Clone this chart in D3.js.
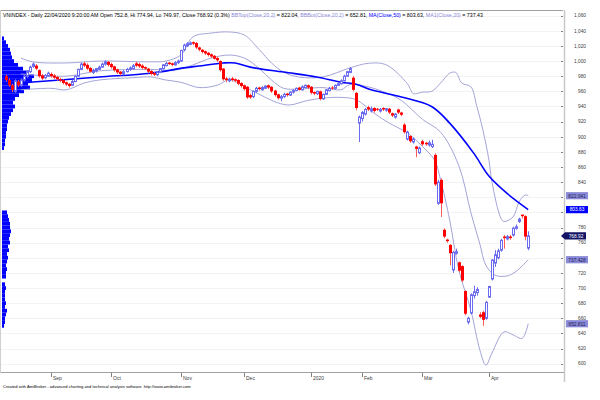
<!DOCTYPE html>
<html><head><meta charset="utf-8">
<script src="https://cdn.jsdelivr.net/npm/d3@7"></script>
<style>body{margin:0;background:#fff}svg{display:block}text{font-family:"Liberation Sans",Arial,sans-serif}</style>
</head><body><svg id="c" width="600" height="400"></svg>
<script>
// ---- data ----
const opens=[980,975,968,960,973,968,975,980,986,993,994,988,981,978,980,983,981,979,976,975,972,970,968,973,980,989,997,995,991,985,987,989,992,996,999,996,993,989,986,983,986,989,990,997,996,994,992,990,987,984,982,985,990,994,998,997,995,998,1000,1015,1020,1022,1025,1024,1018,1015,1013,1011,1009,1007,1004,1000,990,977,974,977,976,975,971,968,966,955,953,960,965,962,964,968,966,961,956,951,953,957,955,959,961,965,962,965,968,966,959,957,960,950,956,961,965,964,968,970,974,980,985,978,958,918,924,930,939,934,938,937,934,938,935,937,931,926,936,932,916,897,901,893,887,879,894,892,889,887,876,812,843,777,764,757,724,746,734,729,696,655,667,690,694,665,668,660,688,712,733,740,750,768,765,768,770,779,788,797,795,752.8];
const highs=[982,977,970,976,975,977,982,988,994,998,996,989,983,983,986,985,983,980,978,976,973,971,975,981,990,998,999,997,992,990,991,994,998,1001,1000,998,994,990,987,988,991,993,996,999,998,996,993,991,988,986,987,991,996,999,999,998,1000,1002,1015,1023,1025,1026,1026,1025,1019,1016,1014,1012,1010,1008,1006,1001,991,979,978,979,977,976,972,969,967,957,961,966,966,967,968,969,967,962,957,955,958,958,960,963,965,966,968,969,969,967,960,961,961,957,963,966,967,969,972,976,982,987,992,980,959,928,934,938,941,940,939,938,938,939,938,938,932,931,937,933,918,908,902,899,888,887,896,893,895,896,878,843,845,779,765,758,749,752,735,730,697,662,693,703,701,668,670,683,703,738,750,752,765,770,770,770,781,784,793,797,796,774.94];
const lows=[973,966,959,958,966,966,973,978,984,991,988,978,975,976,979,978,976,974,972,969,967,965,967,972,979,988,992,988,985,983,985,988,991,994,993,990,986,983,981,981,985,987,989,992,991,989,988,984,981,980,980,984,989,993,995,993,994,996,999,1013,1019,1021,1021,1016,1013,1010,1008,1006,1004,1002,999,986,974,972,972,973,972,968,965,961,950,950,951,958,961,961,963,963,958,953,949,947,951,953,954,957,960,961,961,964,963,956,955,955,948,949,955,960,962,962,967,969,973,979,984,960,935,893,920,928,934,932,932,934,932,934,933,930,926,924,930,927,904,895,892,891,873,877,888,888,887,885,835,810,794,766,760,730,720,744,721,708,664,652,665,686,690,660,650,658,687,710,728,738,748,752,763,764,768,777,786,792,763,749.97];
const closes=[975,968,962,974,968,975,980,986,992,996,990,980,977,981,984,980,978,976,974,971,969,967,973,980,989,996,994,990,986,988,990,992,996,999,995,992,988,985,983,986,989,991,994,994,993,991,990,986,983,982,985,990,995,997,996,995,998,1000,1014,1021,1023,1024,1023,1018,1015,1012,1010,1008,1006,1003,1001,988,976,975,976,975,974,970,967,963,952,952,960,964,963,965,967,965,960,955,951,953,956,955,959,961,964,962,966,968,965,958,957,960,950,956,962,964,964,968,970,974,980,986,990,962,938,926,932,936,936,937,934,936,936,936,937,932,928,930,932,929,906,906,894,897,884,885,890,890,892,890,837,840,812,768,762,746,747,748,723,710,666,660,691,695,698,662,658,681,702,737,744,749,763,766,768,766,779,781,791,795,768,768.92];

const monthLabels=["Sep","Oct","Nov","Dec","2020","Feb","Mar","Apr"];
const monthBar=[15,35,58,79,101,118,138,160];
const yTickVals=[600,620,640,660,680,700,720,740,760,780,800,820,840,860,880,900,920,940,960,980,1000,1020,1040,1060];

// indicator lines (bar index, value)
const ma50Bar=[4,9,18,31,48,59,64,72,76,81,92,103,111,116,121,131,141,147,155,160,166,173];
const ma50Val=[971,972.4,975,979,984,991,993.5,997.5,997.5,992,985.5,979,972,969.5,962,952.5,940,918,878,848,825,803.63];
const bbTopBar=[5,9,20,31,48,53,58,62,68,74,79,84,88,92,97,105,114,120,126,133,135,138,141,144,147,149,151,154,156,158,160,161,164,165,168,170,172,173];
const bbTopVal=[1004,999,997.5,1000,999,1000,1008,1032,1037,1038.5,1034.5,1015,997.5,985.5,979,979,991,997,995,970,957,959,960,971,984,985,971,966,940,909,869,840,792,788,794,814,823,822.04];
const bbMidBar=[5,20,31,48,56,62,68,74,79,84,88,92,97,105,111,114,120,126,131,138,144,150,154,157,159,162,166,169,173];
const bbMidVal=[983,980,987,989,988,995,1004,1008,1004,990,975,964,963,965,962,969,966,958,948,923,906,862,800,758,730,717,716,722,737.43];
const bbBotBar=[5,15,20,26,31,42,48,53,58,64,70,74,81,90,94,100,105,111,116,122,127,133,138,142,144,147,150,154,157,159,161,165,168,171,173];
const bbBotVal=[962,964,962,971,975,978,979,975,972,965,968,975,962,945,942,948,951,952,949,931,918,905,887,869,843,790,724,671,618,598,614,642,638,633.5,652.81];

// volume-at-price profile (price level, relative volume)
const vapLevel=[1030,1025,1020,1015,1010,1005,1000,995,990,985,980,975,970,965,960,955,950,945,940,935,930,925,920,915,910,905,900,895,890,885,800,795,790,785,780,775,770,765,760,755,750,745,740,735,730,725,720,715,705,700,695,690,685,680,675,670,665,660,655,650];
const vapVol=[2,4,6,8,9,10,12,16,21,27,32,30,26,28,22,17,13,11,13,11,9,7,6,5,5,4,4,3,3,2,5,6,7,8,8,9,8,7,8,6,7,5,6,5,4,5,4,4,3,4,3,3,3,4,3,5,4,3,3,2];

// ---- drawing ----
const svg=d3.select("#c");
const x=d3.scaleLinear().domain([0,173]).range([5.7,528.2]);
const y=d3.scaleLinear().domain([589,1066.2]).range([372,11]);
const vx=d3.scaleLinear().domain([0,32]).range([0,32]);
const LAV="#a4a4d8", BLUE="#0000ff", UP="#6b6bef", DN="#ff0000";
const px=v=>Math.round(x(v))+0.5;

// gridlines
svg.append("g").selectAll("line").data(yTickVals).join("line")
  .attr("x1",0).attr("x2",563).attr("y1",d=>Math.round(y(d))+0.5).attr("y2",d=>Math.round(y(d))+0.5)
  .attr("stroke","#f3f3f3");

// volume profile
svg.append("g").selectAll("rect").data(vapLevel).join("rect")
  .attr("x",2).attr("y",d=>y(d+2.5)).attr("height",d=>y(d-2.5)-y(d+2.5))
  .attr("width",(d,i)=>vx(vapVol[i])).attr("fill",BLUE);

// bands & MA
function drawLine(bars,vals,color,w){
  const pts=bars.map((b,i)=>[x(b),y(vals[i])]);
  svg.append("path").attr("d",d3.line().curve(d3.curveCatmullRom.alpha(0.5))(pts))
    .attr("fill","none").attr("stroke",color).attr("stroke-width",w);
}
drawLine(bbTopBar,bbTopVal,LAV,1);
drawLine(bbMidBar,bbMidVal,LAV,1);
drawLine(bbBotBar,bbBotVal,LAV,1);
drawLine(ma50Bar,ma50Val,BLUE,1.6);

// candles
const idx=d3.range(closes.length);
const cg=svg.append("g");
cg.selectAll("line").data(idx).join("line")
  .attr("x1",i=>px(i)).attr("x2",i=>px(i)).attr("y1",i=>y(highs[i])).attr("y2",i=>y(lows[i]))
  .attr("stroke",i=>closes[i]>=opens[i]?UP:"#ff5a5a").attr("stroke-width",1);
cg.selectAll("rect.dn").data(idx.filter(i=>closes[i]<opens[i])).join("rect").attr("class","dn")
  .attr("x",i=>px(i)-1.5).attr("width",3)
  .attr("y",i=>y(opens[i])).attr("height",i=>Math.max(1,y(closes[i])-y(opens[i])))
  .attr("fill",DN);
cg.selectAll("rect.up").data(idx.filter(i=>closes[i]>=opens[i])).join("rect").attr("class","up")
  .attr("x",i=>px(i)-1).attr("width",2)
  .attr("y",i=>y(closes[i])).attr("height",i=>Math.max(0.5,y(opens[i])-y(closes[i])))
  .attr("fill","#fff").attr("stroke",UP).attr("stroke-width",1);

// frame
svg.append("line").attr("x1",0).attr("x2",563).attr("y1",10.5).attr("y2",10.5).attr("stroke","#a0a0a0");
svg.append("line").attr("x1",0).attr("x2",564).attr("y1",372.5).attr("y2",372.5).attr("stroke","#a0a0a0");
svg.append("line").attr("x1",0.5).attr("x2",0.5).attr("y1",10).attr("y2",373).attr("stroke","#d0d0d0");
svg.append("line").attr("x1",564.5).attr("x2",564.5).attr("y1",10).attr("y2",382).attr("stroke","#c8c8c8").attr("stroke-width",1.5);

// value boxes (drawn over the axis, hiding the tick labels they cover)
const last=closes.length-1;
const boxes=[
  {v:bbTopVal[bbTopVal.length-1],t:"822.041",bg:"#8a8ad6",fg:"#1c1c5c"},
  {v:ma50Val[ma50Val.length-1],t:"803.63",bg:BLUE,fg:"#ffffff"},
  {v:bbMidVal[bbMidVal.length-1],t:"737.428",bg:"#8a8ad6",fg:"#1c1c5c"},
  {v:bbBotVal[bbBotVal.length-1],t:"652.811",bg:"#8a8ad6",fg:"#1c1c5c"}
];
const covered=d=>boxes.concat([{v:closes[last]}]).some(b=>Math.abs(y(b.v)-y(d))<4.2);

// right axis
const ya=svg.append("g");
ya.selectAll("line").data(yTickVals).join("line")
  .attr("x1",561).attr("x2",563).attr("y1",d=>Math.round(y(d))+0.5).attr("y2",d=>Math.round(y(d))+0.5).attr("stroke","#808080");
ya.selectAll("text").data(yTickVals.filter(d=>!covered(d))).join("text")
  .attr("x",586).attr("y",d=>y(d)+1.8).attr("text-anchor","end")
  .attr("font-size",4.8).attr("fill","#404040").text(d=>d3.format(",")(d));

// bottom axis
const xa=svg.append("g");
xa.selectAll("line").data(monthBar).join("line")
  .attr("x1",i=>px(i)).attr("x2",i=>px(i)).attr("y1",373).attr("y2",377).attr("stroke","#808080");
xa.selectAll("text").data(monthBar).join("text")
  .attr("x",i=>px(i)+1.5).attr("y",380).attr("font-size",5).attr("fill","#404040")
  .text((d,i)=>monthLabels[i]);

boxes.forEach(b=>{
  const yc=y(b.v);
  svg.append("rect").attr("x",566).attr("y",yc-3.6).attr("width",22).attr("height",7.2).attr("fill",b.bg);
  svg.append("text").attr("x",577).attr("y",yc+1.8).attr("text-anchor","middle").attr("font-size",4.8).attr("fill",b.fg).text(b.t);
});
{
  const yc=y(closes[last]);
  svg.append("path").attr("d",`M561,${yc} L565,${yc-3.6} L586,${yc-3.6} L586,${yc+3.6} L565,${yc+3.6} Z`).attr("fill","#141466");
  svg.append("text").attr("x",576).attr("y",yc+1.8).attr("text-anchor","middle").attr("font-size",4.8).attr("fill","#fff").text(closes[last].toFixed(2));
}

// title
const title=svg.append("text").attr("x",3).attr("y",17).attr("font-size",5).attr("fill","#000");
[["VNINDEX - Daily 22/04/2020 9:20:00 AM Open "+opens[last]+", Hi "+highs[last]+", Lo "+lows[last]+", Close "+closes[last]+" (0.3%) ","#000"],
 ["BBTop(Close,20,2)","#8a8ad6"],[" = 822.04, ","#000"],
 ["BBBot(Close,20,2)","#8a8ad6"],[" = 652.81, ","#000"],
 ["MA(Close,50)",BLUE],[" = 803.63, ","#000"],
 ["MA1(Close,20)","#8a8ad6"],[" = 737.43","#000"]].forEach(s=>{
  title.append("tspan").attr("fill",s[1]).text(s[0]);
});
const tl=title.node().getComputedTextLength();
if(tl>0) title.attr("font-size",5*480/tl);

// footer
const ft=svg.append("text").attr("x",3).attr("y",388).attr("font-size",4).attr("fill","#000")
  .text("Created with AmiBroker - advanced charting and technical analysis software. http://www.amibroker.com");
const fl=ft.node().getComputedTextLength();
if(fl>0) ft.attr("font-size",4*188/fl);
</script></body></html>
